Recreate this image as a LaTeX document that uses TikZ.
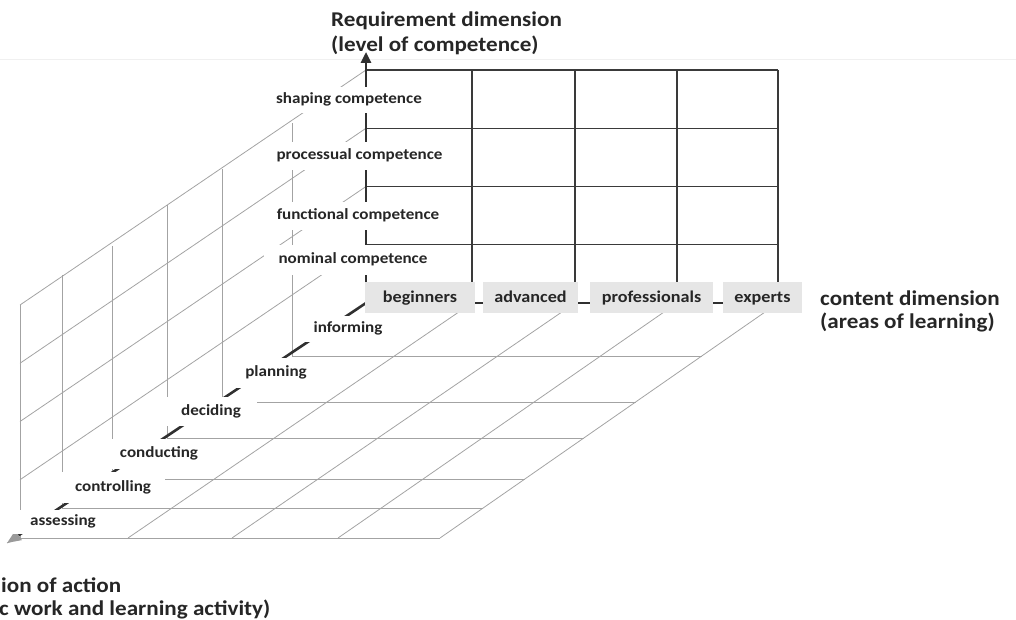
\documentclass[tikz,border=0pt]{standalone}
\usepackage{fontspec}
\setmainfont{Carlito}[FakeStretch=1.1]
\usetikzlibrary{arrows.meta,calc}
\definecolor{txt}{HTML}{262626}
\definecolor{sidegrid}{HTML}{A3A3A3}
\definecolor{backgrid}{HTML}{3A3A3A}
\definecolor{boxgray}{HTML}{E6E6E6}
\definecolor{axisdark}{HTML}{303030}
\definecolor{arrowgray}{HTML}{9A9A9A}
\definecolor{faintline}{HTML}{F0F0F0}
\tikzset{
  side/.style={draw=sidegrid, line width=0.8pt},
  backline/.style={draw=backgrid, line width=1.2pt},
  axisline/.style={draw=axisdark, line width=2.6pt},
  lab/.style={fill=white, text=txt, inner sep=0pt, text height=11pt, text depth=4pt, font=\bfseries\fontsize{15.5}{18}\selectfont},
  cont/.style={fill=boxgray, text=txt, inner sep=0pt, minimum height=31pt, text height=12pt, text depth=2pt, font=\bfseries\fontsize{16.5}{19}\selectfont},
  head/.style={text=txt, inner sep=0pt, anchor=base west, font=\bfseries\fontsize{21}{25}\selectfont},
}
\begin{document}
\begin{tikzpicture}[x=1pt,y=-1pt]
\useasboundingbox (0,0) rectangle (1016,620);
% key points
\coordinate (O) at (366,303);
\coordinate (Vtip) at (366,52);
\coordinate (Hend) at (800,303);
\coordinate (Atip) at (7,543);
\coordinate (k1) at (292,356);
\coordinate (k2) at (222,402);
\coordinate (k3) at (167,438);
\coordinate (k4) at (112,479);
\coordinate (k5) at (62,508);
\coordinate (k6) at (20,538);
\coordinate (e1) at (702,356);
\coordinate (e2) at (636,402);
\coordinate (e3) at (584,438);
\coordinate (e4) at (525,479);
\coordinate (e5) at (483,508);
\coordinate (e6) at (440,538);
\coordinate (c1) at (472,303);
\coordinate (c2) at (575,303);
\coordinate (c3) at (677,303);
\coordinate (c4) at (778,303);
\coordinate (f1) at (128,538);
\coordinate (f2) at (232,538);
\coordinate (f3) at (338,538);
\coordinate (f4) at (440,538);
\coordinate (sL) at (0,60);
\coordinate (sR) at (1016,60);
% faint scan line
\draw[faintline, line width=1pt] (sL) -- (sR);
% left wall
\foreach \k in {1,...,6} \draw[side] (k\k) -- ++(0,-233);
\foreach \z in {1,2,3,4} \draw[side] ($(O)+(0,-58.25*\z)$) -- ($(k6)+(0,-58.25*\z)$);
% floor
\foreach \k in {1,...,6} \draw[side] (k\k) -- (e\k);
\draw[side] (Atip) -- (k6);
\foreach \c in {1,...,4} \draw[side] (c\c) -- (f\c);
% back wall
\foreach \z in {1,2,3,4} \draw[backline] ($(O)+(0,-58.25*\z)$) -- ($(c4)+(0,-58.25*\z)$);
\foreach \c in {1,...,4} \draw[backline] (c\c) -- ++(0,-233);
% axes
\draw[axisline, -{Triangle[width=10pt,length=11pt]}] (O) -- (Vtip);
\draw[axisline] (O) -- (Hend);
\draw[axisline, -{Triangle[width=11pt,length=14pt,color=arrowgray]}] (O) -- (Atip);
% competence labels
\node[lab, minimum width=160pt, minimum height=26pt] (shp) at (349,100) {shaping competence};
\node[lab, minimum width=181pt, minimum height=28pt] (prc) at (359.5,156) {processual competence};
\node[lab, minimum width=176pt, minimum height=28pt] (fun) at (358,216) {functional competence};
\node[lab, minimum width=178pt, minimum height=30pt] (nom) at (353,260) {nominal competence};
% action labels
\node[lab, minimum width=94pt, minimum height=26pt] (inf) at (348,329) {informing};
\node[lab, minimum width=84pt, minimum height=30pt] (pla) at (276,373) {planning};
\node[lab, minimum width=92pt, minimum height=29pt] (dec) at (211,411.5) {deciding};
\node[lab, minimum width=104pt, minimum height=30pt] (con) at (159,454) {conducting};
\node[lab, minimum width=104pt, minimum height=31pt] (ctl) at (113,487.5) {controlling};
\node[lab, minimum width=100pt, minimum height=24pt] (ass) at (63,521.5) {assessing};
% content labels
\node[cont, minimum width=110pt] (beg) at (420,297.5) {beginners};
\node[cont, minimum width=95pt] (adv) at (530.5,297.5) {advanced};
\node[cont, minimum width=123pt] (pro) at (651.5,297.5) {professionals};
\node[cont, minimum width=79pt] (exp) at (762.5,297.5) {experts};
% axis titles
\node[head] (t1) at (331,27) {Requirement dimension};
\node[head] (t2) at (331,52) {(level of competence)};
\node[head] (c1t) at (820,305) {content dimension};
\node[head] (c2t) at (820,328) {(areas of learning)};
\node[head] (a1t) at (1,592) {ion of action};
\node[head] (a2t) at (-1,615) {c work and learning activity)};
\end{tikzpicture}
\end{document}
